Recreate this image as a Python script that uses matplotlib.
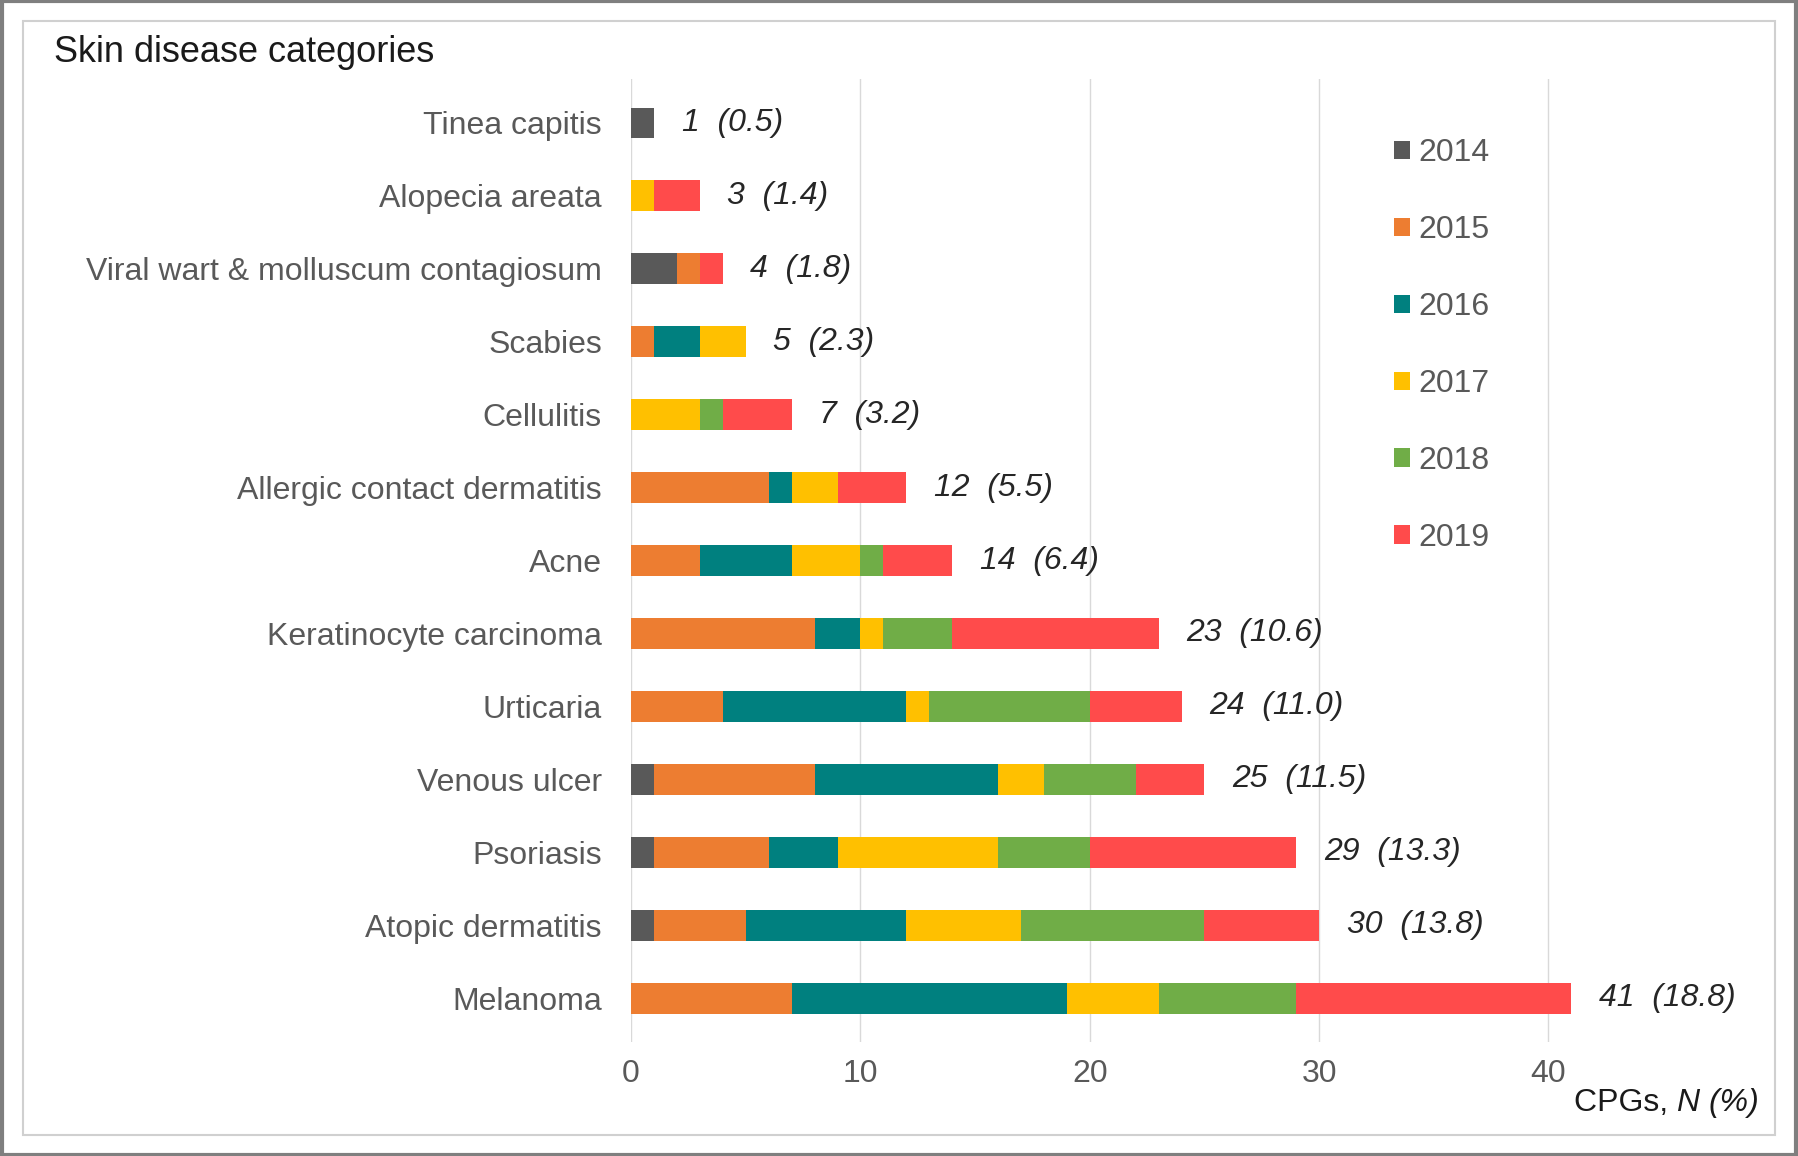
import numpy as np
import matplotlib.pyplot as plt
from matplotlib.patches import Rectangle
from matplotlib.transforms import offset_copy

plt.rcParams['font.family'] = ['Liberation Sans', 'DejaVu Sans']

categories = ["Tinea capitis", "Alopecia areata", "Viral wart & molluscum contagiosum",
              "Scabies", "Cellulitis", "Allergic contact dermatitis", "Acne",
              "Keratinocyte carcinoma", "Urticaria", "Venous ulcer", "Psoriasis",
              "Atopic dermatitis", "Melanoma"]
years = ["2014", "2015", "2016", "2017", "2018", "2019"]
y2014 = [1, 0, 2, 0, 0, 0, 0, 0, 0, 1, 1, 1, 0]
y2015 = [0, 0, 1, 1, 0, 6, 3, 8, 4, 7, 5, 4, 7]
y2016 = [0, 0, 0, 2, 0, 1, 4, 2, 8, 8, 3, 7, 12]
y2017 = [0, 1, 0, 2, 3, 2, 3, 1, 1, 2, 7, 5, 4]
y2018 = [0, 0, 0, 0, 1, 0, 1, 3, 7, 4, 4, 8, 6]
y2019 = [0, 2, 1, 0, 3, 3, 3, 9, 4, 3, 9, 5, 12]
totals = [1, 3, 4, 5, 7, 12, 14, 23, 24, 25, 29, 30, 41]
percents = ["0.5", "1.4", "1.8", "2.3", "3.2", "5.5", "6.4", "10.6", "11.0", "11.5", "13.3", "13.8", "18.8"]
colors = ["#595959", "#ED7D31", "#00807F", "#FFC000", "#70AD47", "#FF4B4B"]

series = [y2014, y2015, y2016, y2017, y2018, y2019]

fig = plt.figure(figsize=(17.98, 11.56), dpi=100)
ax = fig.add_axes([0.351, 0.0986, 0.574, 0.833])

ypos = np.arange(len(categories))
left = np.zeros(len(categories))
for vals, yr, c in zip(series, years, colors):
    ax.barh(ypos, vals, left=left, height=0.42, color=c, label=yr, zorder=3)
    left += np.array(vals)

for i, (t, p) in enumerate(zip(totals, percents)):
    ax.text(t + 1.2, i, f"{t}  ({p})", va='center', ha='left', style='italic',
            fontsize=23, color='#262626')

ax.set_ylim(12.6, -0.6)
ax.set_xlim(0, 45)
ax.set_xticks([0, 10, 20, 30, 40])
ax.set_yticks(ypos)
ax.set_yticklabels(categories)
ax.tick_params(axis='both', length=0, labelsize=23, labelcolor='#595959')
ax.tick_params(axis='y', pad=21)
ax.tick_params(axis='x', pad=12)
ax.grid(axis='x', color='#d9d9d9', linewidth=1, zorder=0)
for s in ax.spines.values():
    s.set_visible(False)

leg = ax.legend(loc='upper left', bbox_to_anchor=(0.727, 0.952), frameon=False,
                fontsize=23, handlelength=0.5, handleheight=0.5, handletextpad=0.25,
                labelspacing=1.47, borderaxespad=0)
for txt in leg.get_texts():
    txt.set_color('#595959')

fig.text(0.03, 0.955, "Skin disease categories", fontsize=26, color='#1a1a1a',
         ha='left', va='center')

# axis caption: "CPGs, " upright + "N (%)" italic
it = fig.text(0.978, 0.046, "N (%)", fontsize=23, style='italic', color='#1a1a1a',
              ha='right', va='center')
r = fig.canvas.get_renderer()
w = it.get_window_extent(renderer=r).width
tr = offset_copy(fig.transFigure, fig=fig, x=-w * 72 / fig.dpi, y=0, units='points')
fig.text(0.978, 0.046, "CPGs, ", fontsize=23, color='#1a1a1a', ha='right',
         va='center', transform=tr)

# inner chart frame and outer border
fig.patches.append(Rectangle((0.013, 0.018), 0.974, 0.964, transform=fig.transFigure,
                             fill=False, edgecolor='#d0d0d0', linewidth=1.5))
fig.patches.append(Rectangle((0.001, 0.001), 0.998, 0.998, transform=fig.transFigure,
                             fill=False, edgecolor='#7f7f7f', linewidth=3))

fig.savefig("out.png", dpi=100)
